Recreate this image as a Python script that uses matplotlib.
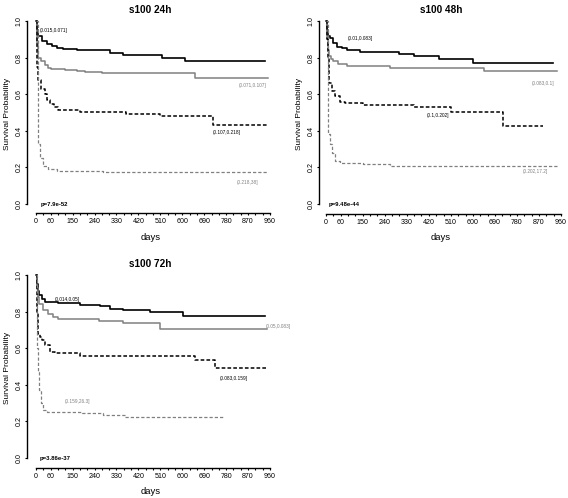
import matplotlib
matplotlib.use("Agg")
import matplotlib.pyplot as plt
from matplotlib.ticker import FixedLocator, FuncFormatter

plt.rcParams['font.family'] = ['Liberation Sans', 'DejaVu Sans']

# ---------------- data ----------------
# s100 24h
t24_q1 = [0, 4, 10, 23, 44, 64, 85, 112, 167, 304, 358, 516, 611, 940]
s24_q1 = [1.0, 0.95, 0.92, 0.89, 0.875, 0.865, 0.85, 0.845, 0.84, 0.827, 0.816, 0.80, 0.78, 0.78]
t24_q2 = [0, 3, 8, 20, 35, 50, 60, 120, 170, 200, 270, 652, 953]
s24_q2 = [1.0, 0.88, 0.80, 0.78, 0.76, 0.745, 0.735, 0.73, 0.725, 0.72, 0.715, 0.69, 0.69]
t24_q3 = [0, 3, 5, 10, 20, 35, 45, 57, 75, 92, 180, 370, 510, 727, 953]
s24_q3 = [1.0, 0.85, 0.75, 0.68, 0.63, 0.60, 0.57, 0.545, 0.53, 0.515, 0.50, 0.49, 0.48, 0.43, 0.43]
t24_q4 = [0, 7, 10, 16, 27, 50, 85, 276, 953]
s24_q4 = [1.0, 0.42, 0.33, 0.254, 0.21, 0.19, 0.18, 0.173, 0.173]
labels24 = ["(0.015,0.071]", "(0.071,0.107]", "(0.107,0.218]", "(0.218,38]"]
pval24 = "p=7.9e-52"

# s100 48h
t48_q1 = [0, 5, 10, 16, 30, 43, 64, 84, 140, 300, 360, 462, 602, 929]
s48_q1 = [1.0, 0.95, 0.92, 0.905, 0.88, 0.86, 0.85, 0.84, 0.83, 0.82, 0.81, 0.795, 0.77, 0.77]
t48_q2 = [0, 4, 8, 12, 20, 30, 50, 84, 260, 645, 942]
s48_q2 = [1.0, 0.90, 0.84, 0.81, 0.79, 0.78, 0.765, 0.755, 0.745, 0.725, 0.725]
t48_q3 = [0, 5, 9, 13, 23, 36, 57, 77, 151, 361, 510, 723, 888]
s48_q3 = [1.0, 0.90, 0.80, 0.66, 0.62, 0.59, 0.56, 0.55, 0.54, 0.53, 0.50, 0.425, 0.425]
t48_q4 = [0, 7, 10, 16, 23, 36, 57, 150, 260, 949]
s48_q4 = [1.0, 0.45, 0.38, 0.33, 0.28, 0.235, 0.225, 0.22, 0.21, 0.21]
labels48 = ["(0.01,0.083]", "(0.083,0.1]", "(0.1,0.202]", "(0.202,17.2]"]
pval48 = "p=9.48e-44"

# s100 72h
t72_q1 = [0, 4, 8, 14, 23, 37, 92, 180, 263, 303, 358, 468, 604, 939]
s72_q1 = [1.0, 0.95, 0.91, 0.89, 0.87, 0.855, 0.845, 0.835, 0.83, 0.816, 0.807, 0.798, 0.777, 0.777]
t72_q2 = [0, 4, 8, 14, 30, 50, 71, 92, 257, 358, 509, 946]
s72_q2 = [1.0, 0.93, 0.88, 0.84, 0.81, 0.785, 0.768, 0.76, 0.75, 0.735, 0.706, 0.706]
t72_q3 = [0, 5, 7, 15, 23, 37, 57, 78, 180, 652, 734, 946]
s72_q3 = [1.0, 0.80, 0.68, 0.66, 0.645, 0.615, 0.58, 0.572, 0.56, 0.537, 0.49, 0.49]
t72_q4 = [0, 6, 10, 14, 19, 30, 44, 187, 276, 365, 768]
s72_q4 = [1.0, 0.60, 0.47, 0.37, 0.30, 0.26, 0.25, 0.245, 0.234, 0.223, 0.223]
labels72 = ["(0.014,0.05]", "(0.05,0.083]", "(0.083,0.159]", "(0.159,26.3]"]
pval72 = "p=3.86e-37"

x_ticks = list(range(0, 961, 30))
x_tick_labels = [0, 60, 150, 240, 330, 420, 510, 600, 690, 780, 870, 960]
y_ticks = [0.0, 0.2, 0.4, 0.6, 0.8, 1.0]

# ---------------- styling ----------------
W, H = 568, 498
BLACK = '#000000'
GREY = '#808080'
styles = [
    dict(color=BLACK, lw=1.2, ls='-'),
    dict(color=GREY, lw=1.1, ls='-'),
    dict(color=BLACK, lw=1.1, ls=(0, (2.4, 1.4))),
    dict(color=GREY, lw=0.9, ls=(0, (2.6, 1.6))),
]


def make_axes(fig, spine_x, x0, x960, y1, y0, xaxis, right, top):
    # build axes from pixel positions measured on the reference
    ppd = (x960 - x0) / 960
    ppu = y0 - y1
    ax = fig.add_axes([spine_x / W, (H - xaxis) / H, (right - spine_x) / W, (xaxis - top) / H])
    ax.set_xlim(-(x0 - spine_x) / ppd, (right - x0) / ppd)
    ax.set_ylim(-(xaxis - y0) / ppu, 1 + (y1 - top) / ppu)
    return ax


def draw_panel(ax, title, curves, labels, label_pos, pval, pval_pos):
    for (t, s), st, in zip(curves, styles):
        ax.step(t, s, where='post', color=st['color'], lw=st['lw'], linestyle=st['ls'])

    for txt, (x, y, ha), st in zip(labels, label_pos, styles):
        ax.text(x, y, txt, fontsize=3.4, color=st['color'], ha=ha, va='center')
    ax.text(pval_pos[0], pval_pos[1], pval, fontsize=4.3, ha='left', va='center',
            fontweight='bold')

    # R-like detached axes
    for side in ['top', 'right']:
        ax.spines[side].set_visible(False)
    ax.spines['left'].set_bounds(0, 1)
    ax.spines['bottom'].set_bounds(0, 960)
    ax.spines['left'].set_linewidth(1.0)
    ax.spines['bottom'].set_linewidth(1.0)

    ax.xaxis.set_major_locator(FixedLocator(x_ticks))
    ax.xaxis.set_major_formatter(FuncFormatter(
        lambda v, pos: str(int(v)) if int(round(v)) in x_tick_labels else ''))
    ax.set_yticks(y_ticks)
    ax.set_yticklabels([f"{v:.1f}" for v in y_ticks], rotation=90, va='center')
    ax.tick_params(axis='both', labelsize=5.1, length=1.6, width=0.8, pad=1.8)

    ax.text(470, 1.02, title, transform=ax.get_xaxis_transform(), ha='center',
            va='center', fontsize=7.2, fontweight='bold')
    ax.text(470, -0.118, 'days', transform=ax.get_xaxis_transform(), ha='center',
            va='center', fontsize=6.8)
    ax.set_ylabel('Survival Probability', fontsize=6.0, labelpad=3)


fig = plt.figure(figsize=(W / 100, H / 100), dpi=100)

ax1 = make_axes(fig, 27.3, 36, 270, 21, 204, 213.5, 282, 14)
draw_panel(ax1, 's100 24h',
           [(t24_q1, s24_q1), (t24_q2, s24_q2), (t24_q3, s24_q3), (t24_q4, s24_q4)],
           labels24,
           [(16, 0.946, 'left'), (887, 0.648, 'center'), (784, 0.39, 'center'), (866, 0.118, 'center')],
           pval24, (20, -0.005))

ax2 = make_axes(fig, 319, 326, 561, 21, 204, 214, 568, 14)
draw_panel(ax2, 's100 48h',
           [(t48_q1, s48_q1), (t48_q2, s48_q2), (t48_q3, s48_q3), (t48_q4, s48_q4)],
           labels48,
           [(90, 0.905, 'left'), (888, 0.66, 'center'), (458, 0.485, 'center'), (856, 0.175, 'center')],
           pval48, (9, 0.0))

ax3 = make_axes(fig, 27.3, 36, 270, 275, 458, 468, 282, 268)
draw_panel(ax3, 's100 72h',
           [(t72_q1, s72_q1), (t72_q2, s72_q2), (t72_q3, s72_q3), (t72_q4, s72_q4)],
           labels72,
           [(78, 0.868, 'left'), (944, 0.719, 'left'), (812, 0.437, 'center'), (170, 0.308, 'center')],
           pval72, (14, 0.0))

fig.savefig('out.png', dpi=100)
